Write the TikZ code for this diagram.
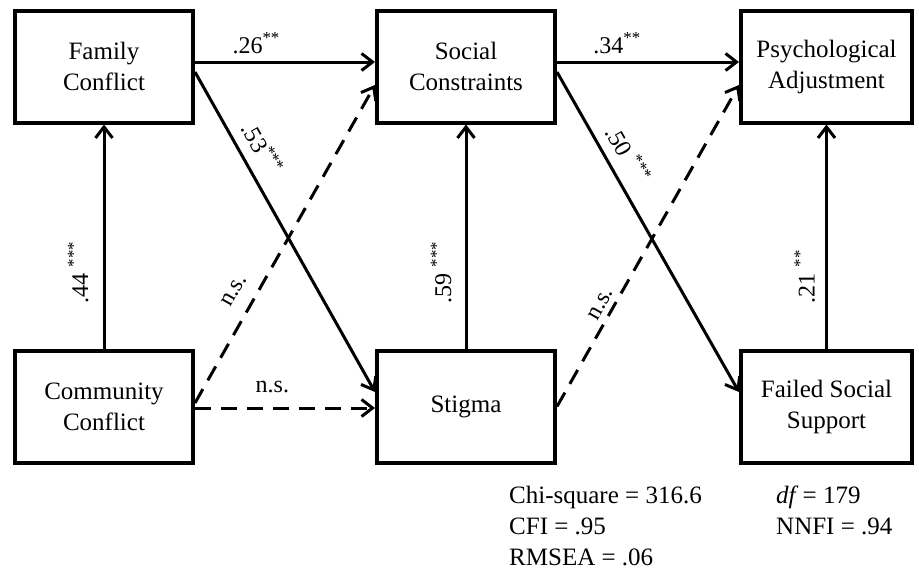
\documentclass[tikz,border=0pt]{standalone}
\usepackage{fontspec}
\setmainfont{Liberation Serif}
\usetikzlibrary{arrows.meta}
\begin{document}
\begin{tikzpicture}[x=1pt,y=-1pt,
  box/.style={draw, line width=4pt, minimum width=178pt, minimum height=112pt, inner sep=0pt, align=center, font=\fontsize{25}{31}\selectfont},
  narrowbox/.style={box, minimum width=171pt},
  conn/.style={line width=3pt, -{Straight Barb[length=11pt,width=17pt]}},
  dsh/.style={conn, dash pattern=on 16pt off 10pt},
  lbl/.style={font=\fontsize{24}{28}\selectfont, inner sep=0pt},
  stat/.style={font=\fontsize{25}{31}\selectfont, inner sep=0pt, anchor=base west}]
\useasboundingbox (0,0) rectangle (919,571);
% boxes
\node[box] (FC) at (104,66.5) {Family\\Conflict};
\node[box] (SC) at (466,66.5) {Social\\Constraints};
\node[narrowbox] (PA) at (826.5,66.5) {Psychological\\Adjustment};
\node[box] (CC) at (104,406.5) {Community\\Conflict};
\node[box] (St) at (466,406.5) {Stigma};
\node[narrowbox] (FSS) at (826.5,406.5) {Failed Social\\Support};
% horizontal top arrows
\draw[conn] ([yshift=4.5pt]FC.east) -- node[lbl, pos=.34, anchor=base, yshift=9pt] {.26\textsuperscript{**}} ([yshift=4.5pt]SC.west);
\draw[conn] ([yshift=4.5pt]SC.east) -- node[lbl, pos=.33, anchor=base, yshift=9pt] {.34\textsuperscript{**}} ([yshift=4.5pt]PA.west);
% solid diagonals
\draw[conn] ([yshift=-5.5pt]FC.east) -- node[lbl, sloped, pos=.27, above=10pt] {.53\textsuperscript{***}} ([yshift=14.5pt]St.west);
\draw[conn] ([yshift=-5.5pt]SC.east) -- node[lbl, sloped, pos=.29, above=10pt] {.50 \textsuperscript{***}} ([yshift=14.5pt]FSS.west);
% dashed
\draw[dsh] ([yshift=3.5pt]CC.east) -- node[lbl, sloped, pos=.32, above=14pt] {n.s.} ([yshift=-18.5pt]SC.west);
\draw[dsh] (St.east) -- node[lbl, sloped, pos=.30, above=5pt] {n.s.} ([yshift=-18.5pt]PA.west);
\draw[dsh] ([yshift=-1.5pt]CC.east) -- node[lbl, pos=.43, anchor=base, yshift=16pt] {n.s.} ([yshift=-1.5pt]St.west);
% vertical
\draw[conn] (CC.north) -- (FC.south);
\draw[conn] (St.north) -- (SC.south);
\draw[conn] (FSS.north) -- (PA.south);
\node[lbl, rotate=90, anchor=base west] (l44) at ([xshift=-16pt,yshift=45pt]CC.north) {.44 \textsuperscript{***}};
\node[lbl, rotate=90, anchor=base west] (l59) at ([xshift=-15pt,yshift=45pt]St.north) {.59 \textsuperscript{***}};
\node[lbl, rotate=90, anchor=base west] (l21) at ([xshift=-12pt,yshift=45pt]FSS.north) {.21 \textsuperscript{**}};
% fit statistics
\node[stat] (chi) at (509,503) {Chi-square = 316.6};
\node[stat] (cfi) at (509,534) {CFI = .95};
\node[stat] (rmsea) at (509,565) {RMSEA = .06};
\node[stat] (df) at (776,503) {\textit{df}\,= 179};
\node[stat] (nnfi) at (776,534) {NNFI = .94};
\end{tikzpicture}
\end{document}
